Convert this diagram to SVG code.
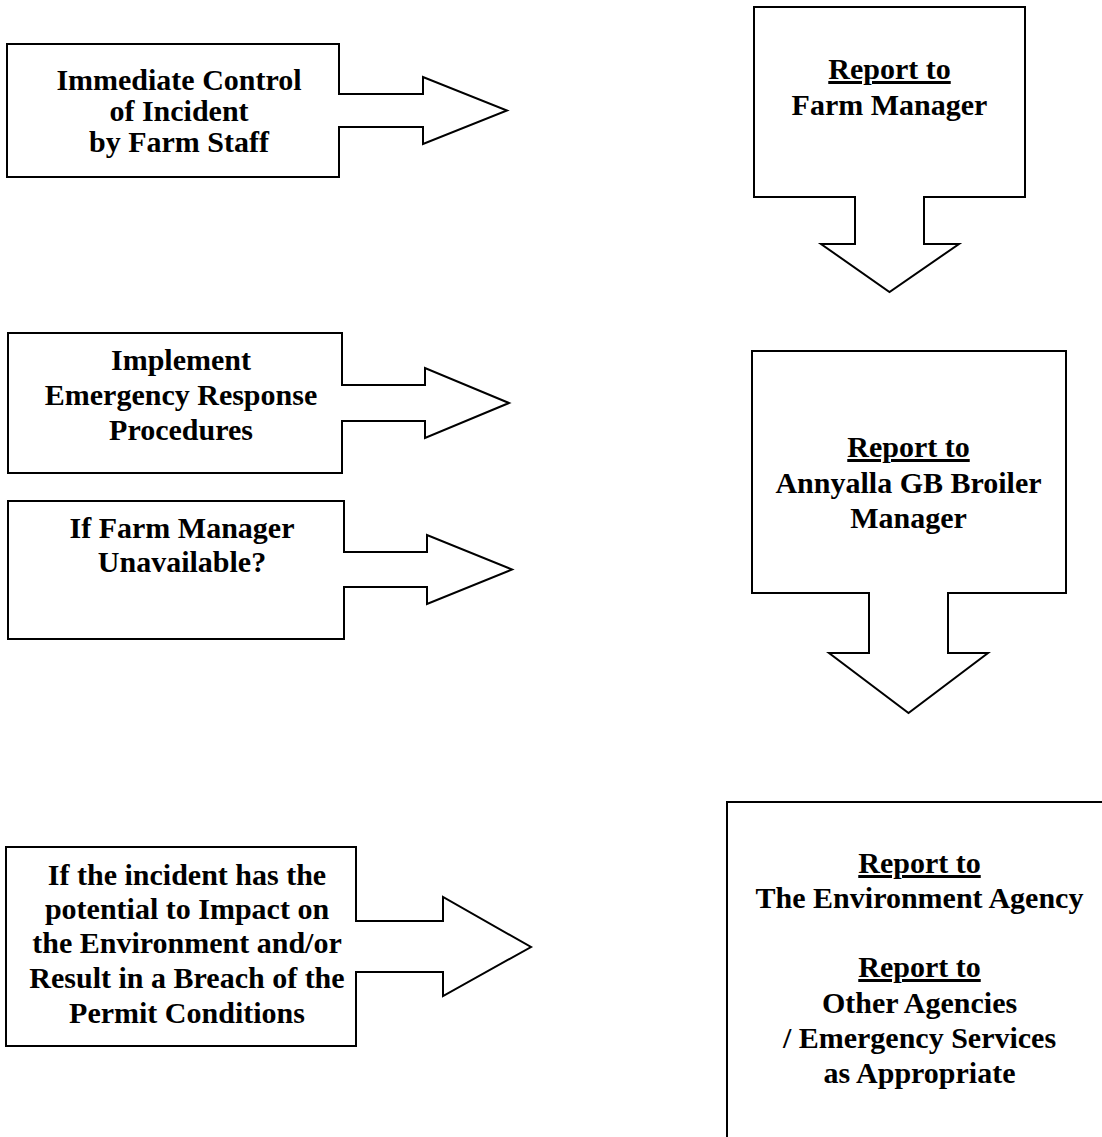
<svg xmlns="http://www.w3.org/2000/svg" width="1102" height="1137" viewBox="0 0 1102 1137">
<style>
.shape{fill:#fff;stroke:#000;stroke-width:2;stroke-linejoin:miter}
.t{font-family:"Liberation Serif","Times New Roman",serif;font-weight:bold;font-size:30px;fill:#000;text-anchor:middle}
.u{text-decoration:underline}
</style>
<rect width="1102" height="1137" fill="#fff"/>
<g id="connectors"/>
<g id="immediate-control">
<path class="shape" d="M7,44 H339 V94 H423 V77 L507,110.5 L423,144 V127 H339 V177 H7 Z"/>
<text class="t" x="179" y="90">Immediate Control</text>
<text class="t" x="179" y="121">of Incident</text>
<text class="t" x="179" y="152">by Farm Staff</text>
</g>
<g id="implement-erp">
<path class="shape" d="M8,333 H342 V385 H425 V368 L509,403 L425,438 V421 H342 V473 H8 Z"/>
<text class="t" x="181" y="370">Implement</text>
<text class="t" x="181" y="405">Emergency Response</text>
<text class="t" x="181" y="440">Procedures</text>
</g>
<g id="manager-unavailable">
<path class="shape" d="M8,501 H344 V552 H427 V535 L512,569.5 L427,604 V587 H344 V639 H8 Z"/>
<text class="t" x="182" y="538">If Farm Manager</text>
<text class="t" x="182" y="572">Unavailable?</text>
</g>
<g id="environment-impact">
<path class="shape" d="M6,847 H356 V921 H443 V897 L531,947 L443,996 V972 H356 V1046 H6 Z"/>
<text class="t" x="187" y="885">If the incident has the</text>
<text class="t" x="187" y="919">potential to Impact on</text>
<text class="t" x="187" y="953">the Environment and/or</text>
<text class="t" x="187" y="988">Result in a Breach of the</text>
<text class="t" x="187" y="1023">Permit Conditions</text>
</g>
<g id="report-farm-manager">
<path class="shape" d="M754,7 H1025 V197 H924 V244 H959 L889.5,292 L821,244 H855 V197 H754 Z"/>
<text class="t u" x="889.5" y="79">Report to</text>
<text class="t" x="889.5" y="115">Farm Manager</text>
</g>
<g id="report-broiler-manager">
<path class="shape" d="M752,351 H1066 V593 H948 V653 H988 L908.5,713 L829,653 H869 V593 H752 Z"/>
<text class="t u" x="908.5" y="457">Report to</text>
<text class="t" x="908.5" y="493">Annyalla GB Broiler</text>
<text class="t" x="908.5" y="528">Manager</text>
</g>
<g id="report-agencies">
<rect class="shape" x="727" y="802" width="400" height="400"/>
<text class="t u" x="919.5" y="873">Report to</text>
<text class="t" x="919.5" y="908">The Environment Agency</text>
<text class="t u" x="919.5" y="977">Report to</text>
<text class="t" x="919.5" y="1012.5">Other Agencies</text>
<text class="t" x="919.5" y="1048">/ Emergency Services</text>
<text class="t" x="919.5" y="1083">as Appropriate</text>
</g>
</svg>
